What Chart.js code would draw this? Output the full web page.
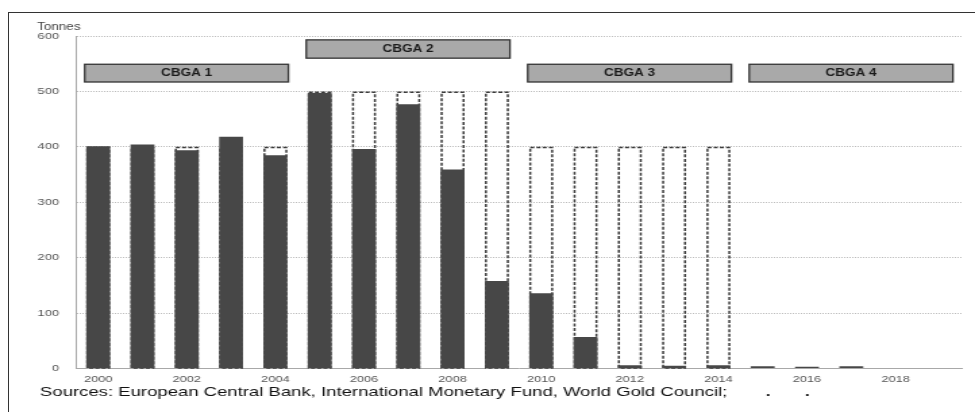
<!DOCTYPE html>
<html><head><meta charset="utf-8">
<style>
html,body{margin:0;padding:0;background:#fff;}
#wrap{position:relative;width:975px;height:412px;overflow:hidden;background:#fff;}
#c{position:absolute;left:0;top:0;}
#frame{position:absolute;left:8px;top:12px;right:-4px;bottom:-4px;border-top:1.5px solid #333;border-left:1.5px solid #333;}
</style>
<script src="https://cdn.jsdelivr.net/npm/chart.js@4.4.1/dist/chart.umd.min.js"></script>
</head><body>
<div id="wrap"><canvas id="c" width="722" height="412" style="width:975px;height:412px"></canvas><div id="frame"></div></div>
<script>
// ---- data ----
const years = ['2000','2001','2002','2003','2004','2005','2006','2007','2008','2009',
               '2010','2011','2012','2013','2014','2015','2016','2017','2018','2019'];
const sales = [401, 404, 394, 418, 385, 497, 396, 477, 359, 158,
               136, 57, 6, 5, 6, 4, 3, 4, 0, 0];
const ceiling = [400, 400, 400, 400, 400, 500, 500, 500, 500, 500,
                 400, 400, 400, 400, 400, null, null, null, null, null];
const yTicks = [0, 100, 200, 300, 400, 500, 600];
const agreementNames = ['CBGA 1', 'CBGA 2', 'CBGA 3', 'CBGA 4'];
const agreementStart = ['2000', '2005', '2010', '2015'];
const agreementEnd = ['2004', '2009', '2014', '2019'];
const unitLabel = 'Tonnes';
const sourceText = 'Sources: European Central Bank, International Monetary Fund, World Gold Council;';

const FONT = "'Liberation Sans', Arial, Helvetica, sans-serif";

const ceilingOutline = {
  id: 'ceilingOutline',
  afterDatasetDraw(chart, args) {
    if (args.index !== 0) return;
    const ctx = chart.ctx;
    ctx.save();
    ctx.strokeStyle = '#3a3a3a';
    ctx.lineWidth = 1.5;
    ctx.setLineDash([3, 1.6]);
    args.meta.data.forEach((el, i) => {
      if (ceiling[i] == null) return;
      const w = el.width;
      const l = el.x - w / 2 + 0.75;
      ctx.strokeRect(l, el.y + 0.75, w - 1.5, el.base - el.y - 0.75);
    });
    ctx.restore();
  }
};

const decorations = {
  id: 'decorations',
  afterDraw(chart) {
    const ctx = chart.ctx;
    const y = chart.scales.y;
    const meta = chart.getDatasetMeta(1);
    ctx.save();
    // agreement boxes
    const levels = [[517, 549], [560, 593], [517, 549], [517, 549]];
    agreementNames.forEach((name, k) => {
      const a = meta.data[years.indexOf(agreementStart[k])];
      const b = meta.data[years.indexOf(agreementEnd[k])];
      const l = a.x - a.width / 2 - 1.1;
      const r = b.x + b.width / 2 + 0.8;
      const t = y.getPixelForValue(levels[k][1]);
      const btm = y.getPixelForValue(levels[k][0]);
      ctx.fillStyle = '#a9a9a9';
      ctx.fillRect(l, t, r - l, btm - t);
      ctx.strokeStyle = '#333';
      ctx.lineWidth = 1.3;
      ctx.setLineDash([]);
      ctx.strokeRect(l, t, r - l, btm - t);
      ctx.fillStyle = '#1a1a1a';
      ctx.font = 'bold 10px ' + FONT;
      ctx.textAlign = 'center';
      ctx.textBaseline = 'middle';
      ctx.fillText(name, (l + r) / 2, (t + btm) / 2 + 0.5);
    });
    // unit label
    ctx.fillStyle = '#444';
    ctx.font = '10px ' + FONT;
    ctx.textAlign = 'left';
    ctx.textBaseline = 'alphabetic';
    ctx.fillText(unitLabel, 27.4, 29.5);
    // sources
    ctx.fillStyle = '#111';
    ctx.font = '13px ' + FONT;
    const target = 509;
    const m = ctx.measureText(sourceText).width;
    const sx = target / m;
    ctx.save();
    ctx.translate(29.6, 396);
    ctx.scale(sx, 1);
    ctx.fillText(sourceText, 0, 0);
    ctx.restore();
    ctx.font = 'bold 13px ' + FONT;
    ctx.fillText('.', 567, 396);
    ctx.fillText('.', 596, 396);
    ctx.restore();
  }
};

new Chart(document.getElementById('c'), {
  type: 'bar',
  data: {
    labels: years,
    datasets: [
      { label: 'Ceiling', data: ceiling, backgroundColor: 'rgba(0,0,0,0)', borderWidth: 0,
        grouped: false, order: 2, barPercentage: 0.54, categoryPercentage: 1 },
      { label: 'Sales', data: sales, backgroundColor: '#474747', borderWidth: 0,
        grouped: false, order: 1, barPercentage: 0.54, categoryPercentage: 1 }
    ]
  },
  options: {
    responsive: false,
    animation: false,
    devicePixelRatio: 1,
    layout: { padding: { left: 0, right: 9.6, top: 36, bottom: 24.5 } },
    plugins: { legend: { display: false }, tooltip: { enabled: false } },
    scales: {
      x: {
        grid: { display: false, drawTicks: false },
        border: { display: true, color: '#a8a8a8', width: 1 },
        ticks: {
          autoSkip: false, maxRotation: 0, minRotation: 0, padding: 5, color: '#555',
          font: { family: FONT, size: 9.5 },
          callback: (v, i) => (i % 2 === 0 ? years[i] : '')
        },
        afterFit: s => { s.height = 19; }
      },
      y: {
        min: 0, max: 600,
        afterBuildTicks: s => { s.ticks = yTicks.map(v => ({ value: v })); },
        ticks: { padding: 12.6, color: '#555', font: { family: FONT, size: 9.5 } },
        grid: { drawTicks: false, lineWidth: 1,
                color: c => (c.tick && c.tick.value === 0 ? 'rgba(0,0,0,0)' : '#bdbdbd') },
        border: { display: true, color: '#a8a8a8', width: 1, dash: [1, 1] },
        afterFit: s => { s.width = 56.3; }
      }
    }
  },
  plugins: [ceilingOutline, decorations]
});
</script>
</body></html>
